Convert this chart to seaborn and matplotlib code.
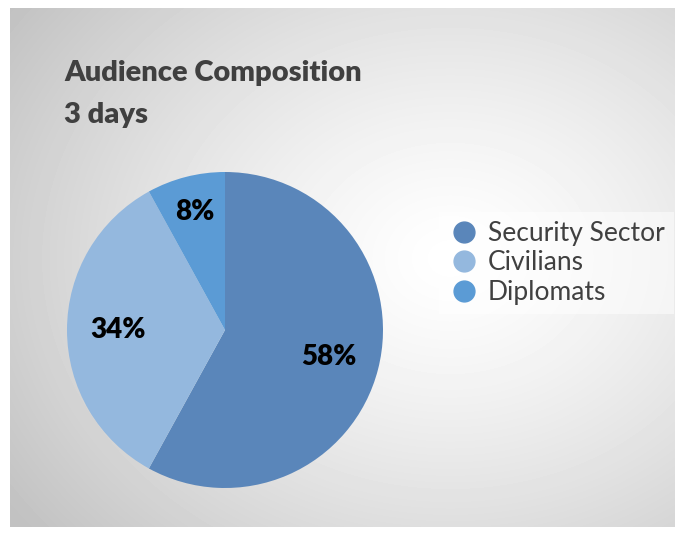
import numpy as np
import matplotlib
matplotlib.use('Agg')
import matplotlib.pyplot as plt
import seaborn as sns

# chart data
categories = ['Security Sector', 'Civilians', 'Diplomats']
shares = [58, 34, 8]
colors = ['#5a86ba', '#94b8de', '#5b9bd5']
title_lines = ['Audience Composition', '3 days']

sns.set_theme(style='white')
plt.rcParams['font.family'] = ['Lato', 'DejaVu Sans']

W, H = 675, 539
fig = plt.figure(figsize=(W / 100, H / 100), dpi=100)
fig.patch.set_facecolor('white')

# radial gray gradient panel
bg = fig.add_axes([10 / W, 12 / H, 665 / W, 519 / H])
yy, xx = np.mgrid[0:519, 0:665]
cx, cy = 440, 250
d = np.sqrt(((xx - cx) / 520.0) ** 2 + ((yy - cy) / 420.0) ** 2)
shade = np.clip(1.0 - 0.23 * d ** 1.3, 0.76, 1.0)
bg.imshow(shade, cmap='gray', vmin=0, vmax=1, aspect='auto', interpolation='bilinear')
bg.axis('off')

# pie
r = 158
cxp, cyp = 225, 330
ax = fig.add_axes([(cxp - r) / W, (H - cyp - r) / H, 2 * r / W, 2 * r / H])
ax.set_facecolor('none')
wedges, texts, autotexts = ax.pie(
    shares, colors=colors, startangle=90, counterclock=False,
    autopct='%1.0f%%', pctdistance=0.68,
    textprops=dict(fontsize=20, fontweight='heavy', color='black'),
    wedgeprops=dict(linewidth=0))
# push the small slice label outward a bit
w = wedges[2]
mid = np.deg2rad((w.theta1 + w.theta2) / 2)
autotexts[2].set_position((0.77 * np.cos(mid), 0.77 * np.sin(mid)))
ax.set_xlim(-1, 1)
ax.set_ylim(-1, 1)
ax.set_aspect('equal')
ax.axis('off')

# title
fig.text(64 / W, 1 - 73 / H, title_lines[0], fontsize=21, fontweight='heavy',
         color='#404040', va='center', ha='left')
fig.text(64 / W, 1 - 115 / H, title_lines[1], fontsize=21, fontweight='heavy',
         color='#404040', va='center', ha='left')

# legend
handles = [plt.Line2D([0], [0], marker='o', linestyle='', markersize=15,
                      markerfacecolor=c, markeredgecolor=c) for c in colors]
leg = fig.legend(handles, categories, loc='center left',
                 bbox_to_anchor=(426 / W, 1 - 263 / H), frameon=True,
                 fontsize=19, labelspacing=0.18, handletextpad=0.3,
                 handlelength=1.2, borderpad=0.35)
leg.get_frame().set_facecolor('white')
leg.get_frame().set_alpha(0.5)
leg.get_frame().set_edgecolor('none')
leg.get_frame().set_boxstyle('square', pad=0)
for t in leg.get_texts():
    t.set_color('#404040')

fig.savefig('out.png', dpi=100)
